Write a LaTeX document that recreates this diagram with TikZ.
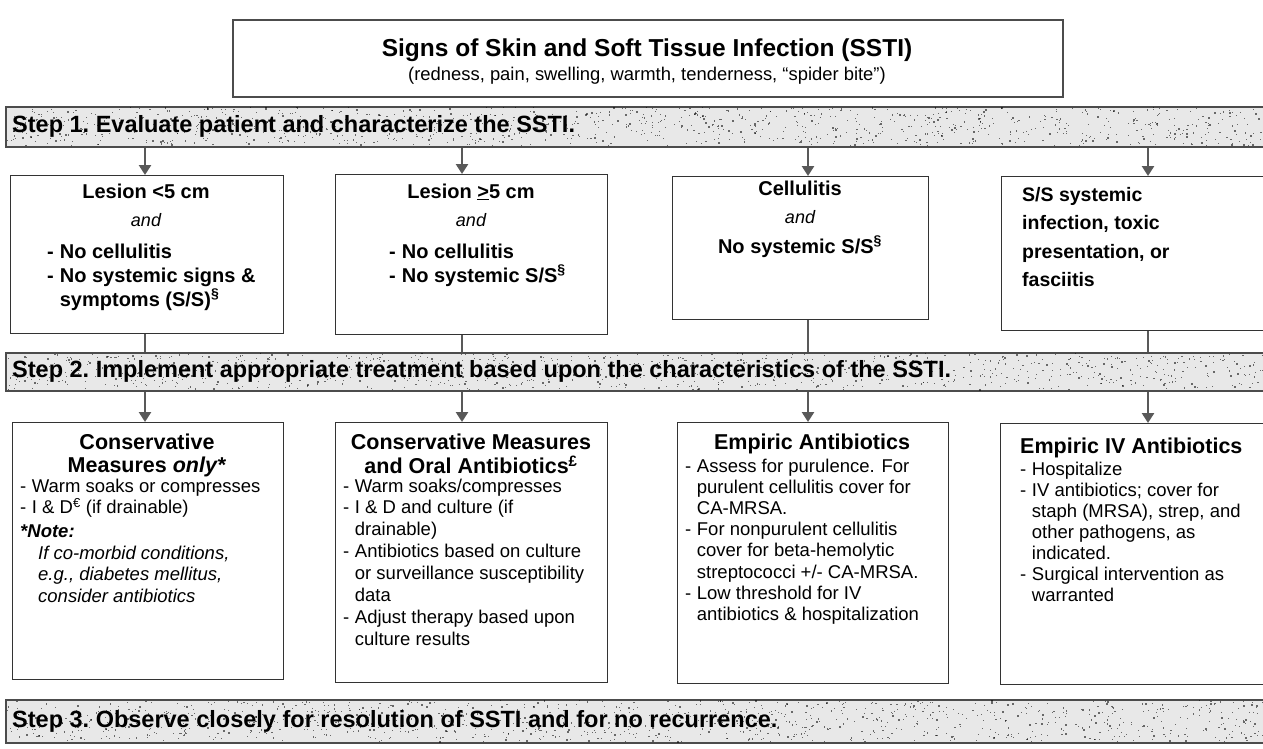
\documentclass[tikz,border=0pt]{standalone}
\usepackage{fontspec}
\setmainfont{Liberation Sans}
\usetikzlibrary{arrows.meta}

% dashed list: rows are "- & text" or "& continuation"
\newcommand\dashlist[1]{\begin{tabular}[t]{@{}l@{\hspace{0.3em}}l@{}}#1\end{tabular}}
% centred stack of lines
\newcommand\cstack[1]{\begin{tabular}[t]{@{}c@{}}#1\end{tabular}}
% left stack of lines
\newcommand\lstack[1]{\begin{tabular}[t]{@{}l@{}}#1\end{tabular}}

% speckled texture for the step bands: x1 y1 x2 y2 count
\newcommand\bandspeckle[5]{%
  \foreach \k in {1,...,#5}{%
    \pgfmathsetmacro\px{#1+rnd*(#3-#1)}%
    \pgfmathsetmacro\py{#2+rnd*(#4-#2)}%
    \pgfmathsetmacro\ps{0.5+rnd*1.3}%
    \fill[black,opacity=0.55] (\px,\py) rectangle ++(\ps,\ps);
  }%
}

\begin{document}
\begin{tikzpicture}[x=1pt,y=-1pt,
  box/.style={draw=black!80, line width=1.2pt, fill=white, anchor=north west, inner sep=0pt},
  band/.style={draw=black!70, line width=1.5pt, fill=black!9, anchor=north west, inner sep=0pt},
  steptext/.style={anchor=west, inner sep=0pt, font=\bfseries\fontsize{23.5}{26}\selectfont},
  flow/.style={draw=black!65, line width=2.6pt, -{Triangle[width=12pt,length=10pt]}},
  link/.style={draw=black!65, line width=2.6pt},
  hdA/.style={anchor=base, inner sep=0pt, font=\bfseries\fontsize{20}{24}\selectfont},
  andtxt/.style={anchor=base, inner sep=0pt, font=\itshape\fontsize{18}{20}\selectfont},
  lstA/.style={anchor=base west, inner sep=0pt, font=\bfseries\fontsize{20}{24}\selectfont},
  hdB/.style={anchor=base, inner sep=0pt, font=\bfseries\fontsize{21.5}{23}\selectfont},
  lstB/.style={anchor=base west, inner sep=0pt, font=\fontsize{18.5}{21.9}\selectfont},
]
\useasboundingbox (0,0) rectangle (1263,748);
\clip (0,0) rectangle (1263,748);
\fill[white] (0,0) rectangle (1263,748);
\pgfmathsetseed{11}

% column positions of the connectors
\coordinate (c1) at (145,0);
\coordinate (c2) at (462,0);
\coordinate (c3) at (808,0);
\coordinate (c4) at (1148,0);

% heading box
\node[box, line width=1.6pt, draw=black!70, minimum width=830pt, minimum height=77pt] (top) at (232,19) {};
\node[anchor=base, inner sep=0pt, font=\bfseries\fontsize{24.5}{28}\selectfont] (toptitle) at (647,56)
  {Signs of Skin and Soft Tissue Infection (SSTI)};
\node[anchor=base, inner sep=0pt, font=\fontsize{18.4}{22}\selectfont] (topsub) at (647,80)
  {(redness, pain, swelling, warmth, tenderness, “spider bite”)};

% step bands
\node[band, minimum width=1290pt, minimum height=40pt] (s1) at (5,106) {};
\bandspeckle{6}{107}{1263}{145}{1000}
\node[steptext] (s1t) at ([xshift=7pt]s1.west) {Step 1.\ Evaluate patient and characterize the SSTI.};

\node[band, minimum width=1290pt, minimum height=38pt] (s2) at (5,352) {};
\bandspeckle{6}{353}{1263}{389}{950}
\node[steptext] (s2t) at ([xshift=7pt]s2.west)
  {Step 2.\ Implement appropriate treatment based upon the characteristics of the SSTI.};

\node[band, minimum width=1290pt, minimum height=43pt] (s3) at (5,699) {};
\bandspeckle{6}{700}{1263}{741}{1050}
\node[steptext] (s3t) at ([xshift=7pt]s3.west)
  {Step 3.\ Observe closely for resolution of SSTI and for no recurrence.};

% characterisation boxes
\node[box, minimum width=273pt, minimum height=158pt] (ba) at (10,175) {};
\node[box, minimum width=272pt, minimum height=160pt] (bb) at (335,174) {};
\node[box, minimum width=256pt, minimum height=143pt] (bc) at (672,176) {};
\node[box, minimum width=290pt, minimum height=154pt] (bd) at (1001,176) {};

\node[hdA] (ta) at (146,198) {Lesion <5 cm};
\node[andtxt] (aa) at (146,226) {and};
\node[lstA] (la) at (47,258) {\dashlist{- & No cellulitis\\ - & No systemic signs \&\\ & symptoms (S/S)\textsuperscript{\S}}};

\node[hdA] (tb) at (471,198) {Lesion \underline{>}5 cm};
\node[andtxt] (ab) at (471,226) {and};
\node[lstA] (lb) at (389,258) {\dashlist{- & No cellulitis\\ - & No systemic S/S\textsuperscript{\S}}};

\node[hdA] (tc) at (800,195) {Cellulitis};
\node[andtxt] (ac) at (800,223) {and};
\node[hdA] (nc) at (800,253) {No systemic S/S\textsuperscript{\S}};

\node[lstA, font=\bfseries\fontsize{19.5}{28.5}\selectfont] (ld) at (1022,201)
  {\lstack{S/S systemic\\ infection, toxic\\ presentation, or\\ fasciitis}};

% treatment boxes
\node[box, minimum width=271pt, minimum height=257pt] (be) at (12,422) {};
\node[box, minimum width=272pt, minimum height=260pt] (bf) at (335,422) {};
\node[box, minimum width=271pt, minimum height=261pt] (bg) at (677,422) {};
\node[box, minimum width=290pt, minimum height=261pt] (bh) at (1000,423) {};

\node[hdB] (te) at (147,449) {\cstack{Conservative\\ Measures \textit{only}*}};
\node[lstB] (le) at (20,492) {\dashlist{- & Warm soaks or compresses\\ - & I \& D\textsuperscript{€} (if drainable)}};
\node[lstB, font=\bfseries\itshape\fontsize{18.5}{21.9}\selectfont] (ne) at (20,537) {*Note:};
\node[lstB, font=\itshape\fontsize{18.5}{21.9}\selectfont] (ie) at (38,559)
  {\lstack{If co-morbid conditions,\\ e.g., diabetes mellitus,\\ consider antibiotics}};

\node[hdB] (tf) at (471,449) {\cstack{Conservative Measures\\ and Oral Antibiotics\textsuperscript{£}}};
\node[lstB] (lf) at (343,492) {\dashlist{- & Warm soaks/compresses\\ - & I \& D and culture (if\\ & drainable)\\
  - & Antibiotics based on culture\\ & or surveillance susceptibility\\ & data\\
  - & Adjust therapy based upon\\ & culture results}};

\node[hdB] (tg) at (812,449) {Empiric Antibiotics};
\node[lstB, font=\fontsize{18.5}{21.2}\selectfont] (lg) at (685,472) {\dashlist{- & Assess for purulence. For\\ & purulent cellulitis cover for\\ & CA-MRSA.\\
  - & For nonpurulent cellulitis\\ & cover for beta-hemolytic\\ & streptococci +/- CA-MRSA.\\
  - & Low threshold for IV\\ & antibiotics \& hospitalization}};

\node[hdB, anchor=base west] (th) at (1020,453) {Empiric IV Antibiotics};
\node[lstB, font=\fontsize{18.5}{21}\selectfont] (lh) at (1020,475) {\dashlist{- & Hospitalize\\ - & IV antibiotics; cover for\\ & staph (MRSA), strep, and\\ & other pathogens, as\\ & indicated.\\
  - & Surgical intervention as\\ & warranted}};

% connectors
\draw[flow] (c1 |- s1.south) -- (c1 |- ba.north);
\draw[flow] (c2 |- s1.south) -- (c2 |- bb.north);
\draw[flow] (c3 |- s1.south) -- (c3 |- bc.north);
\draw[flow] (c4 |- s1.south) -- (c4 |- bd.north);

\draw[link] (c1 |- ba.south) -- (c1 |- s2.north);
\draw[link] (c2 |- bb.south) -- (c2 |- s2.north);
\draw[link] (c3 |- bc.south) -- (c3 |- s2.north);
\draw[link] (c4 |- bd.south) -- (c4 |- s2.north);

\draw[flow] (c1 |- s2.south) -- (c1 |- be.north);
\draw[flow] (c2 |- s2.south) -- (c2 |- bf.north);
\draw[flow] (c3 |- s2.south) -- (c3 |- bg.north);
\draw[flow] (c4 |- s2.south) -- (c4 |- bh.north);
\end{tikzpicture}
\end{document}
